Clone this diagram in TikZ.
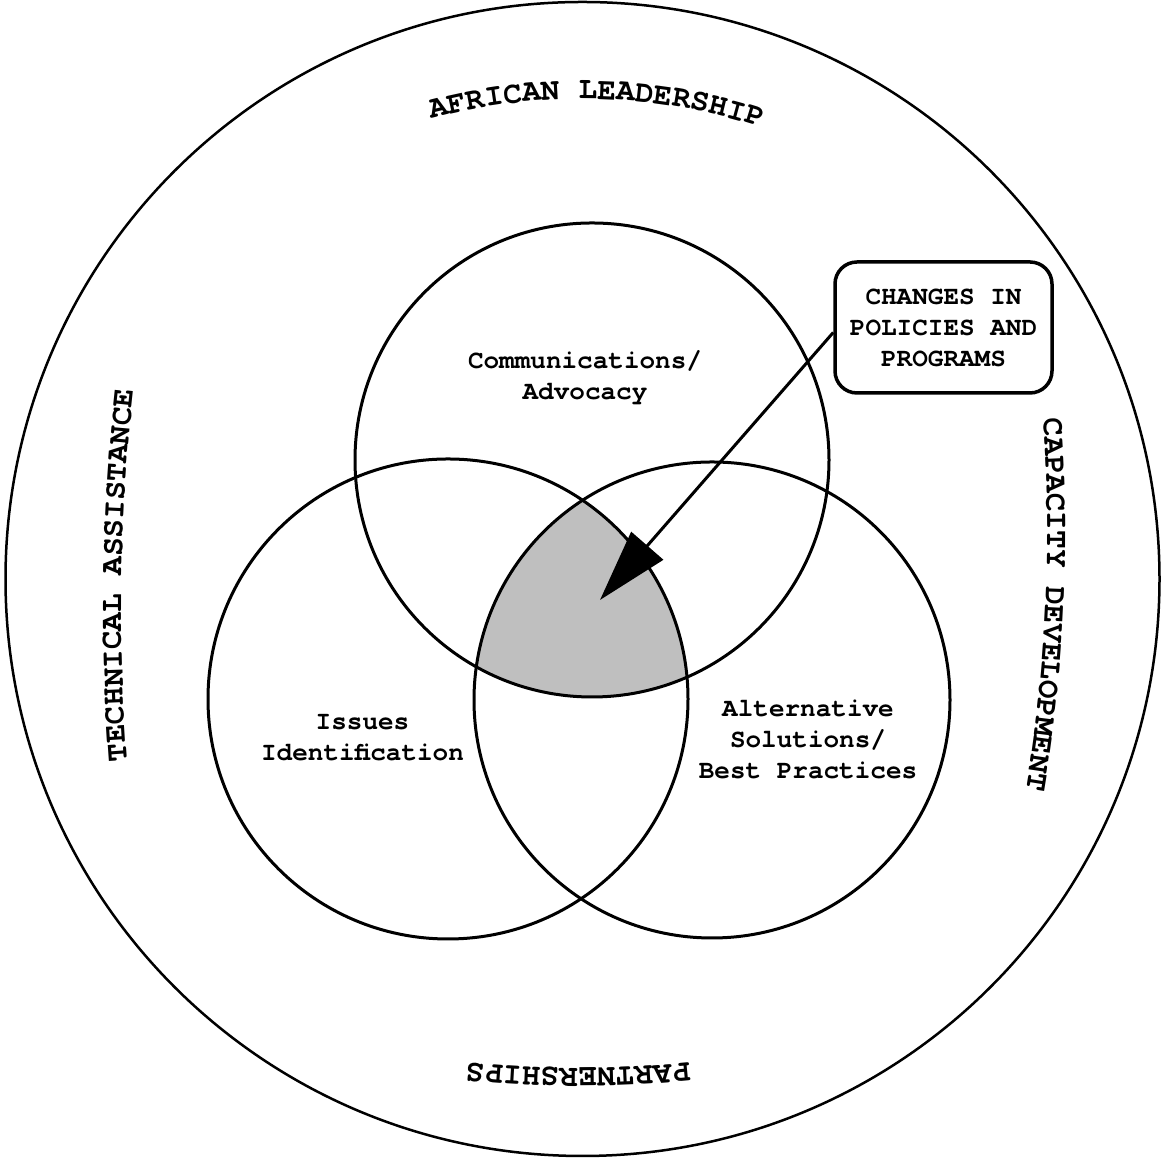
\documentclass[tikz,border=0pt]{standalone}
\usepackage{fontspec}
\setmainfont{TeX Gyre Cursor}
\usetikzlibrary{arrows.meta,decorations.text}
\definecolor{shadegray}{HTML}{BFBFBF}
\newcommand\arcfont{\bfseries\fontsize{31}{31}\selectfont}
\newcommand\lblfont{\bfseries\fontsize{26}{31}\selectfont}
\tikzset{
  ring/.style={line width=3pt},
  lbl/.style={font=\lblfont, align=center, inner sep=0pt},
  callout/.style={draw, line width=3.5pt, rounded corners=22pt, minimum width=217pt, minimum height=131pt, font=\lblfont, align=center, fill=white},
  arctext/.style={decorate, decoration={text along path, text align=center, text={|\arcfont|#1}}}
}
\begin{document}
\begin{tikzpicture}[x=1pt,y=1pt]
\useasboundingbox (0,0) rectangle (1163,1158);
% outer circle
\coordinate (O) at (582.5,579);
\draw[line width=2.5pt] (O) circle[radius=577pt];
% circle centres
\coordinate (ct) at (592,698);
\coordinate (cl) at (448,459);
\coordinate (cr) at (712,458);
% shaded triple intersection
\begin{scope}
  \clip (ct) circle[radius=237pt];
  \clip (cl) circle[radius=240pt];
  \fill[shadegray] (cr) circle[radius=238pt];
\end{scope}
\draw[ring] (ct) circle[radius=237pt];
\draw[ring] (cl) circle[radius=240pt];
\draw[ring] (cr) circle[radius=238pt];
% labels in circles
\node[lbl] (comm) at (585,780.5) {Communications/\\Advocacy};
\node[lbl] (issues) at (362.5,420) {Issues\\Identification};
\node[lbl] (alt) at (808,419) {Alternative\\Solutions/\\Best Practices};
% callout box and arrow
\node[callout] (box) at (943.5,830.5) {CHANGES IN\\POLICIES AND\\PROGRAMS};
\coordinate (tip) at (600,558);
\draw[line width=3pt, -{Triangle[length=72pt,width=42pt]}] ([yshift=-5pt]box.west) -- (tip);
% curved texts
\path[arctext={AFRICAN LEADERSHIP}] ([shift={(106:580pt)}]582,479) arc[start angle=106,end angle=71,radius=580pt];
\path[arctext={TECHNICAL ASSISTANCE}] ([shift={(186:2000pt)}]2121.6,547.7) arc[start angle=186,end angle=172,radius=2000pt];
\path[arctext={CAPACITY DEVELOPMENT}] ([shift={(5.5:1527pt)}]-479.5,622.4) arc[start angle=5.5,end angle=-10.7,radius=1527pt];
\path[arctext={PARTNERSHIPS}] ([shift={(277:1100pt)}]578,1190) arc[start angle=277,end angle=263,radius=1100pt];
\end{tikzpicture}
\end{document}
